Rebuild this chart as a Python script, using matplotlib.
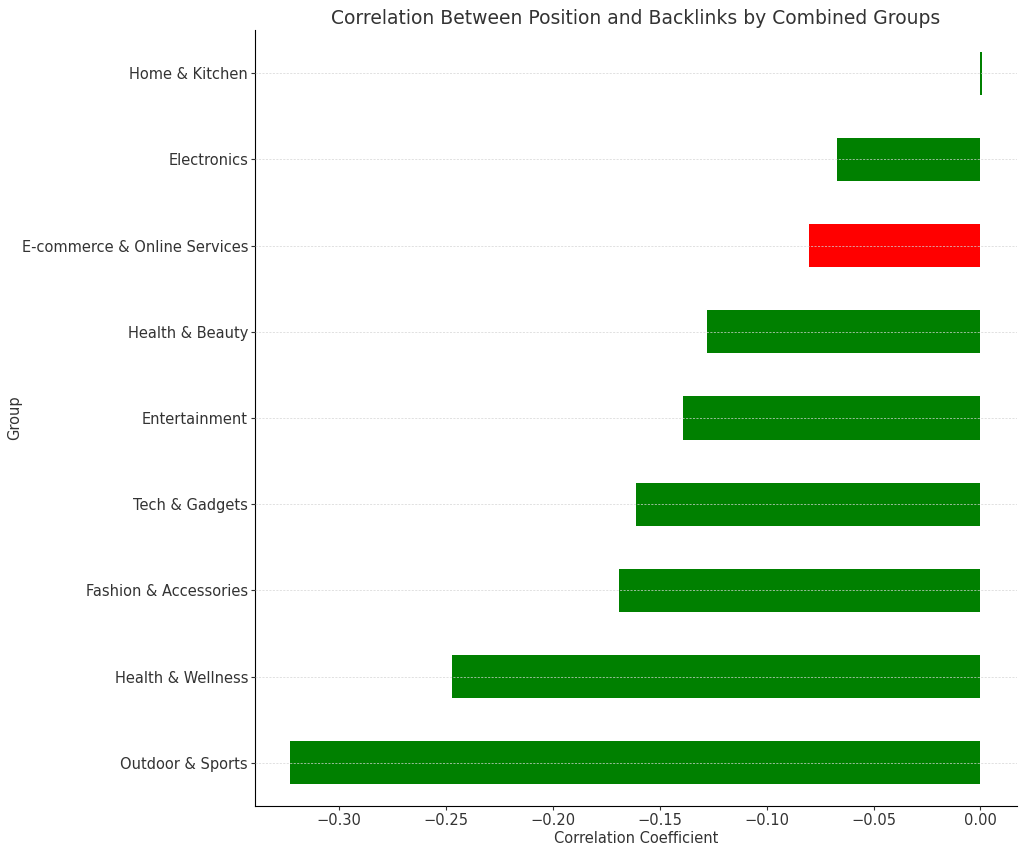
import matplotlib
matplotlib.use("Agg")
import matplotlib.pyplot as plt

groups = ["Outdoor & Sports", "Health & Wellness", "Fashion & Accessories",
          "Tech & Gadgets", "Entertainment", "Health & Beauty",
          "E-commerce & Online Services", "Electronics", "Home & Kitchen"]
corr = [-0.323, -0.247, -0.169, -0.161, -0.139, -0.128, -0.080, -0.067, 0.0009]
colors = ["green", "green", "green", "green", "green", "green",
          "red", "green", "green"]

plt.rcParams["text.color"] = "#333333"
plt.rcParams["axes.labelcolor"] = "#333333"
plt.rcParams["xtick.color"] = "#333333"
plt.rcParams["ytick.color"] = "#333333"

fig = plt.figure(figsize=(10.24, 8.52), dpi=100)
ax = fig.add_axes([255/1024, 46/852, 762/1024, 776/852])

ax.barh(range(len(groups)), corr, height=0.5, color=colors)
ax.set_yticks(range(len(groups)))
ax.set_yticklabels(groups, fontsize=10.5)
ax.set_ylim(-0.5, len(groups) - 0.5)
ax.tick_params(axis="both", labelsize=10.5, pad=2, length=3)
ax.set_xticks([-0.30, -0.25, -0.20, -0.15, -0.10, -0.05, 0.00])
ax.set_xlabel("Correlation Coefficient", fontsize=10.5, labelpad=2)
ax.set_ylabel("Group", fontsize=10.5)
ax.yaxis.set_label_coords(-0.305, 0.5)
ax.set_title("Correlation Between Position and Backlinks by Combined Groups",
             fontsize=13.5, pad=4)

ax.grid(axis="y", ls=(0, (3, 2)), lw=0.5, color="#d5d5d5")
ax.set_axisbelow(False)
ax.spines["top"].set_visible(False)
ax.spines["right"].set_visible(False)

fig.savefig("out.png", dpi=100)
